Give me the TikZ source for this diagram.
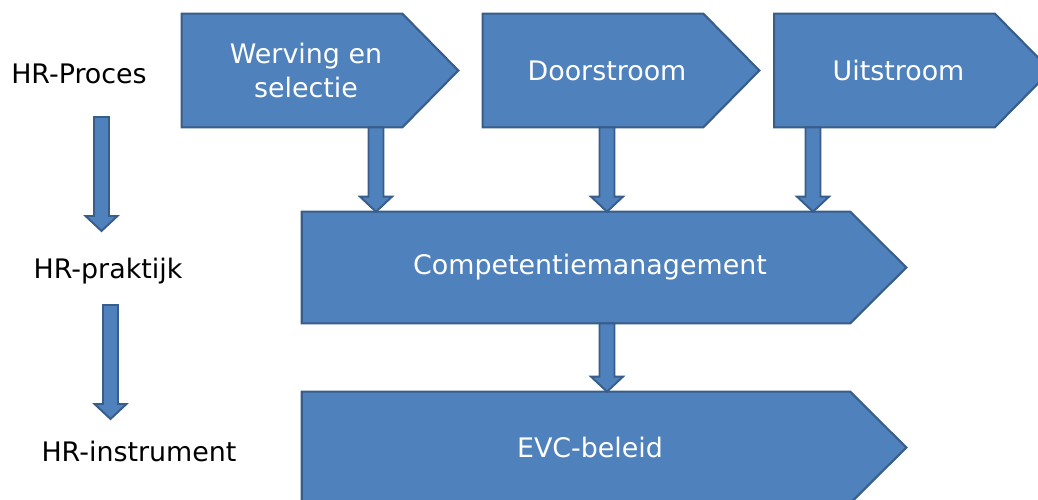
\documentclass[tikz,border=0pt]{standalone}
\usepackage{fontspec}
\setmainfont{DejaVu Sans}
\usetikzlibrary{calc,backgrounds}
\definecolor{boxblue}{HTML}{4F81BD}
\definecolor{boxedge}{HTML}{385D8A}
\tikzset{
	lbl/.style={font=\fontsize{15.3}{19}\selectfont},
	box/.style={minimum width=4.96cm, minimum height=2.26cm, inner sep=0pt, text=white, align=center, font=\fontsize{15.3}{19.3}\selectfont},
	widebox/.style={box, minimum width=11.52cm, minimum height=2.22cm},
	pent/.style={fill=boxblue, draw=boxedge, line width=1.2pt},
	blockarr/.style={fill=boxblue, draw=boxedge, line width=1.1pt, line join=miter},
}
\newcommand{\pentagon}[1]{\draw[pent] (#1.north west) -- ($(#1.north east)+(-28,0)$) -- ($(#1.east)+(28,0)$) -- ($(#1.south east)+(-28,0)$) -- (#1.south west) -- cycle;}
\newcommand{\blockarrow}[2]{\filldraw[blockarr] ($(#1)+(-7.5,0)$) -- ($(#2)+(-7.5,-15)$) -- ($(#2)+(-16,-15)$) -- (#2) -- ($(#2)+(16,-15)$) -- ($(#2)+(7.5,-15)$) -- ($(#1)+(7.5,0)$) -- cycle;}

\begin{document}
\begin{tikzpicture}[x=0.02cm, y=-0.02cm]
	\clip (0,0) rectangle (1038,500);

	\node[lbl] (proces) at (79,74) {HR-Proces};
	\node[lbl] (praktijk) at (108,271) {HR-praktijk};
	\node[lbl] (instrument) at (139,451) {HR-instrument};

	\node[box] (werving) at (306,70.5) {Werving en\\selectie};
	\node[box] (door) at (607,70.5) {Doorstroom};
	\node[box] (uit) at (898.5,70.5) {Uitstroom};
	\node[widebox] (comp) at (590,267.5) {Competentiemanagement};
	\node[widebox] (evc) at (590,447.5) {EVC-beleid};

	\begin{scope}[on background layer]
		\clip (0,0) rectangle (1038,500);
		\pentagon{werving}
		\pentagon{door}
		\pentagon{uit}
		\pentagon{comp}
		\pentagon{evc}
	\end{scope}

	\coordinate (p1) at (101.5,117);
	\coordinate (p2) at (101.5,231);
	\coordinate (q1) at (110.5,305);
	\coordinate (q2) at (110.5,419);
	\blockarrow{p1}{p2}
	\blockarrow{q1}{q2}

	\coordinate (a1) at ($(werving.south)+(70,0)$);
	\coordinate (a2) at (door.south);
	\coordinate (a3) at ($(uit.south)+(-85.5,0)$);
	\coordinate (a4) at ($(comp.south)+(17,0)$);
	\blockarrow{a1}{a1 |- comp.north}
	\blockarrow{a2}{a2 |- comp.north}
	\blockarrow{a3}{a3 |- comp.north}
	\blockarrow{a4}{a4 |- evc.north}
\end{tikzpicture}
\end{document}
